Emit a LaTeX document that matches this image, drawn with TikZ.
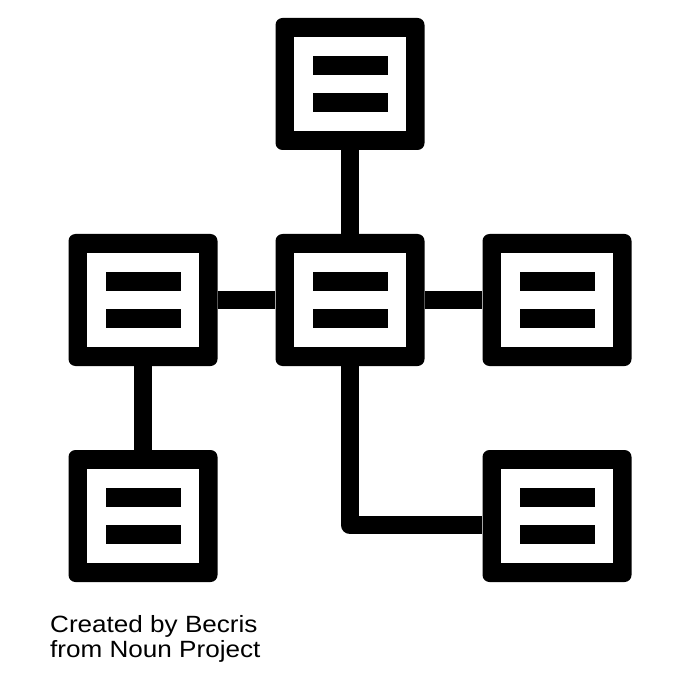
\documentclass[tikz,border=0pt]{standalone}
\usepackage{fontspec}
\setmainfont{Liberation Sans}
\newfontfamily\creditfont[FakeStretch=1.11]{Liberation Sans}
\tikzset{
  boxnode/.style={rectangle, fill=black, rounded corners=7pt, inner sep=0pt,
    minimum width=149pt, minimum height=132pt,
    path picture={
      \fill[white, sharp corners] ([shift={(-56pt,-47pt)}]path picture bounding box.center) rectangle ([shift={(56pt,47pt)}]path picture bounding box.center);
      \fill[black, sharp corners] ([shift={(-37.5pt,9.25pt)}]path picture bounding box.center) rectangle ([shift={(37.5pt,27.75pt)}]path picture bounding box.center);
      \fill[black, sharp corners] ([shift={(-37.5pt,-27.75pt)}]path picture bounding box.center) rectangle ([shift={(37.5pt,-9.25pt)}]path picture bounding box.center);
    }},
  link/.style={line width=18.5pt, line join=round}
}
\begin{document}
\begin{tikzpicture}[x=1pt,y=-1pt]
\useasboundingbox[fill=white] (0,0) rectangle (700,700);
\node[boxnode] (top) at (350,84) {};
\node[boxnode] (mid) at (350,300) {};
\node[boxnode] (left) at (143,300) {};
\node[boxnode] (right) at (557,300) {};
\node[boxnode] (bl) at (143,516) {};
\node[boxnode] (br) at (557,516) {};
\draw[link] (top.south) -- (mid.north);
\draw[link] (left.east) -- (mid.west);
\draw[link] (mid.east) -- (right.west);
\draw[link] (left.south) -- (bl.north);
\draw[link] (mid.south) |- ([yshift=-9pt]br.west);
\node[anchor=base west, inner sep=0pt, font=\creditfont\fontsize{23.5}{25.5}\selectfont] (credit1) at (50,632) {Created by Becris};
\node[anchor=base west, inner sep=0pt, font=\creditfont\fontsize{23.5}{25.5}\selectfont] (credit2) at (50,657.5) {from Noun Project};
\end{tikzpicture}
\end{document}
